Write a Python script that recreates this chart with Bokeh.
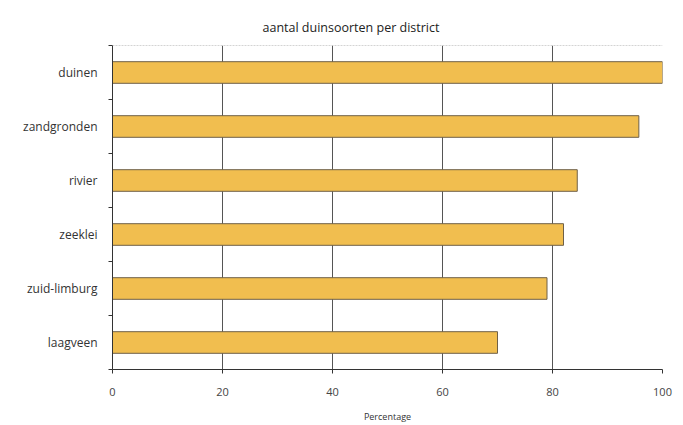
from bokeh.plotting import figure
from bokeh.models import ColumnDataSource, Range1d, FixedTicker, Span
from bokeh.embed import file_html
from bokeh.resources import INLINE

categories = ["duinen", "zandgronden", "rivier", "zeeklei", "zuid-limburg", "laagveen"]
values = [100, 95.7, 84.5, 82, 79, 70]
x_ticks = [0, 20, 40, 60, 80, 100]

n = len(categories)
ypos = [n - i - 0.5 for i in range(n)]
src = ColumnDataSource(dict(cat=categories, val=values, y=ypos))

p = figure(width=675, height=425, output_backend="svg", toolbar_location=None,
           x_range=Range1d(0, 100), y_range=Range1d(0, n),
           min_border_left=112, min_border_right=13, min_border_top=45, min_border_bottom=53)
p.title.text = "aantal duinsoorten per district"
p.title.align = "left"
p.title.offset = 150
p.title.standoff = 20
p.title.text_font = "Open Sans"
p.title.text_font_size = "12.5px"
p.title.text_font_style = "normal"
p.title.text_color = "#222222"

p.hbar(y="y", right="val", left=0, height=0.4, source=src,
       fill_color="#F1BE4F", line_color="#6e6048", line_width=1)

p.outline_line_color = None
p.background_fill_color = "white"

# x axis
p.xaxis.ticker = FixedTicker(ticks=x_ticks)
p.xaxis.axis_label = "Percentage"
p.xaxis.axis_label_text_font = "Open Sans"
p.xaxis.axis_label_text_font_size = "9px"
p.xaxis.axis_label_text_font_style = "normal"
p.xaxis.axis_label_text_color = "#333333"
p.xaxis.axis_label_standoff = 11
p.xaxis.major_label_text_font = "Open Sans"
p.xaxis.major_label_text_font_size = "11px"
p.xaxis.major_label_text_color = "#444444"
p.xaxis.major_label_standoff = 14
p.xaxis.major_tick_in = 0
p.xaxis.major_tick_out = 4
p.xaxis.major_tick_line_color = "#333333"
p.xaxis.minor_tick_line_color = None
p.xaxis.axis_line_color = "#333333"

# y axis
p.yaxis.ticker = FixedTicker(ticks=ypos, minor_ticks=list(range(0, n + 1)))
p.yaxis.major_label_overrides = {y: c for y, c in zip(ypos, categories)}
p.yaxis.major_tick_in = 0
p.yaxis.major_tick_out = 0
p.yaxis.minor_tick_in = 0
p.yaxis.minor_tick_out = 4
p.yaxis.minor_tick_line_color = "#333333"
p.yaxis.axis_line_color = "#333333"
p.yaxis.major_label_text_font = "Open Sans"
p.yaxis.major_label_text_font_size = "12px"
p.yaxis.major_label_text_color = "#333333"
p.yaxis.major_label_standoff = 11

p.xgrid.grid_line_color = "#555555"
p.xgrid.grid_line_width = 1
p.ygrid.grid_line_color = None

p.add_layout(Span(location=n, dimension="width", line_color="#aaaaaa", line_dash="2 1", line_width=1))

open("out.html", "w").write(file_html(p, INLINE))
